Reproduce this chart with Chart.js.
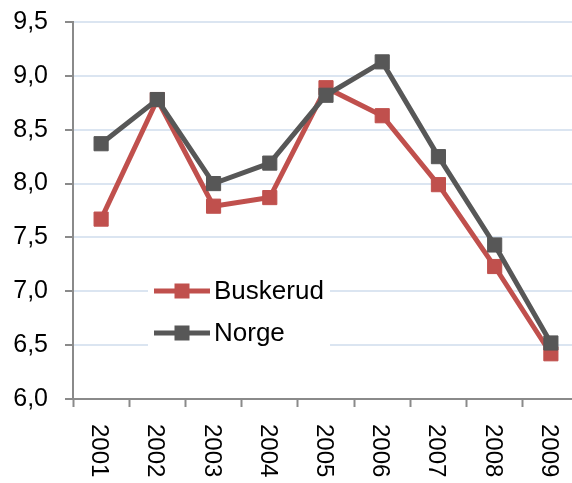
<!DOCTYPE html>
<html>
<head>
<meta charset="utf-8">
<script src="https://cdn.jsdelivr.net/npm/chart.js@4/dist/chart.umd.min.js"></script>
<style>
html,body{margin:0;padding:0;background:#fff;overflow:hidden;}
#wrap{position:relative;width:590px;height:483px;}
</style>
</head>
<body>
<div id="wrap"><canvas id="c"></canvas></div>
<script>
const categories = ['2001','2002','2003','2004','2005','2006','2007','2008','2009'];
const buskerud = [7.67, 8.78, 7.79, 7.87, 8.89, 8.63, 7.99, 7.23, 6.42];
const norge = [8.37, 8.78, 8.00, 8.19, 8.82, 9.13, 8.25, 7.43, 6.52];
const seriesNames = ['Buskerud', 'Norge'];
const yMin = 6, yMax = 9.5, yStep = 0.5;

const RED = '#C0504D', GRAY = '#575757', AXIS = '#8a8a8a', GRID = '#dbe5f1';
const FONT = '"Liberation Sans", Arial, sans-serif';

const xLabelPlugin = {
  id: 'xLabels',
  afterDraw(chart) {
    const ctx = chart.ctx, xs = chart.scales.x;
    ctx.save();
    ctx.fillStyle = '#000';
    ctx.font = '24px ' + FONT;
    ctx.textAlign = 'left';
    ctx.textBaseline = 'alphabetic';
    categories.forEach((lab, i) => {
      const x = xs.getPixelForValue(i);
      ctx.save();
      ctx.translate(x - 9, 424);
      ctx.rotate(Math.PI / 2);
      ctx.fillText(lab, 0, 0);
      ctx.restore();
    });
    ctx.restore();
  }
};

const legendPlugin = {
  id: 'boxLegend',
  beforeDatasetsDraw(chart) {
    const ctx = chart.ctx;
    ctx.save();
    ctx.fillStyle = '#fff';
    ctx.fillRect(148, 266, 182, 88);
    const rows = [{y: 291}, {y: 333}];
    chart.data.datasets.forEach((ds, i) => {
      const y = rows[i].y;
      ctx.strokeStyle = ds.borderColor;
      ctx.lineWidth = 5;
      ctx.beginPath();
      ctx.moveTo(154, y);
      ctx.lineTo(210, y);
      ctx.stroke();
      ctx.fillStyle = ds.borderColor;
      ctx.fillRect(182 - 7.5, y - 7.5, 15, 15);
      ctx.fillStyle = '#000';
      ctx.font = '26px ' + FONT;
      ctx.textBaseline = 'middle';
      ctx.textAlign = 'left';
      ctx.fillText(ds.label, 214, y + 1);
    });
    ctx.restore();
  }
};

new Chart(document.getElementById('c'), {
  type: 'line',
  data: {
    labels: categories,
    datasets: [
      {label: seriesNames[0], data: buskerud, borderColor: RED, backgroundColor: RED,
       borderWidth: 5, pointStyle: 'rect', pointRadius: 10, pointBorderWidth: 1,
       pointBackgroundColor: RED, pointBorderColor: RED, tension: 0, order: 2},
      {label: seriesNames[1], data: norge, borderColor: GRAY, backgroundColor: GRAY,
       borderWidth: 5, pointStyle: 'rect', pointRadius: 10, pointBorderWidth: 1,
       pointBackgroundColor: GRAY, pointBorderColor: GRAY, tension: 0, order: 1}
    ]
  },
  options: {
    responsive: true,
    maintainAspectRatio: false,
    animation: false,
    layout: {padding: {top: 22, left: 0, right: 10, bottom: 0}},
    plugins: {legend: {display: false}, tooltip: {enabled: false}},
    scales: {
      x: {
        offset: true,
        grid: {display: true, offset: true, drawOnChartArea: false, drawTicks: true,
               tickLength: 8, tickColor: AXIS, tickWidth: 2, color: AXIS},
        border: {display: true, color: AXIS, width: 2},
        ticks: {display: false},
        afterFit(s) { s.height = 84; s.paddingLeft = 0; s.paddingRight = 0; }
      },
      y: {
        min: yMin, max: yMax,
        grid: {color: GRID, lineWidth: 2, tickLength: 8, tickColor: AXIS, tickWidth: 2},
        border: {display: true, color: AXIS, width: 2},
        ticks: {
          stepSize: yStep, padding: 17, color: '#000',
          font: {family: FONT, size: 25},
          callback: v => Number(v).toFixed(1).replace('.', ',')
        },
        afterFit(s) { s.width = 73; s.paddingTop = 0; s.paddingBottom = 0; }
      }
    }
  },
  plugins: [legendPlugin, xLabelPlugin]
});
</script>
</body>
</html>
